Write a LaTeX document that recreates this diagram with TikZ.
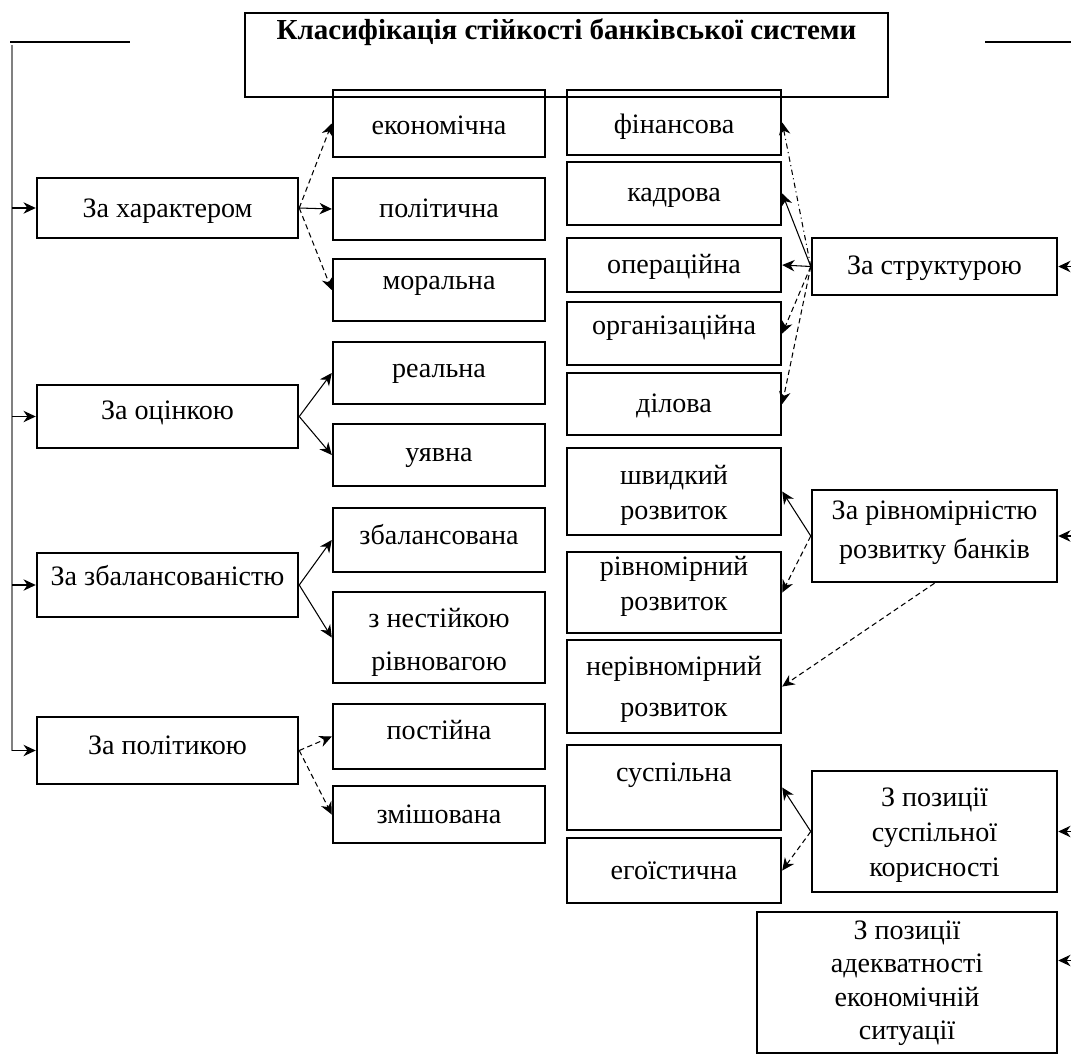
\documentclass[tikz,border=0pt]{standalone}
\usepackage{fontspec}
\setmainfont{Liberation Serif}
\usetikzlibrary{arrows.meta, calc}
\tikzset{box/.style 2 args={draw, line width=1.4pt, minimum width=#1*0.02cm, minimum height=#2*0.02cm, inner sep=0pt},
    txt/.style={font=\fontsize{16}{20}\selectfont, align=center, execute at begin node=\strut, execute at end node=\strut},
    lift/.style={yshift=#1*0.02cm},
    arr/.style={-{Stealth[length=7pt,width=6.5pt]}, line width=0.6pt},
    dsh/.style={arr, densely dashed}}

\begin{document}
\begin{tikzpicture}[x=0.02cm, y=-0.02cm]
\useasboundingbox (0,0) rectangle (1071,1061);

% title and the two side lines
\node[box={643}{84}, line width=0.9pt, label={[txt, font=\fontsize{16.5}{20}\selectfont\bfseries, lift=23]center:Класифікація стійкості банківської системи}] (title) at (566.5,55) {};
\coordinate (tl) at (10,42);
\coordinate (tr) at (1071,42);
\draw[line width=0.8pt] (tl) -- ++(120,0);
\draw[line width=0.8pt] (tr) -- ++(-86,0);

% left column
\node[box={261}{60}, label={[txt, lift=-2]center:За характером}] (har) at (167.5,208) {};
\node[box={261}{63}, label={[txt, lift=4]center:За оцінкою}] (ots) at (167.5,416.5) {};
\node[box={261}{64}, label={[txt, lift=7]center:За збалансованістю}] (zbal) at (167.5,585) {};
\node[box={261}{67}, label={[txt, lift=3]center:За політикою}] (pol) at (167.5,750.5) {};

% middle column
\node[box={212}{67}, label={[txt, lift=-4]center:економічна}] (ekon) at (439,123.5) {};
\node[box={212}{62}, label={[txt, lift=-1]center:політична}] (polit) at (439,209) {};
\node[box={212}{62}, label={[txt, lift=8]center:моральна}] (moral) at (439,290) {};
\node[box={212}{62}, label={[txt, lift=3]center:реальна}] (real) at (439,373) {};
\node[box={212}{62}, label={[txt, lift=1]center:уявна}] (uyav) at (439,455) {};
\node[box={212}{64}, label={[txt, lift=3]center:збалансована}] (zbalans) at (439,540) {};
\node[box={212}{91}, label={[txt, lift=-7]center:з нестійкою\\[4.5pt]рівновагою}] (nestiyk) at (439,637.5) {};
\node[box={212}{65}, label={[txt, lift=4]center:постійна}] (post) at (439,736.5) {};
\node[box={212}{57}, label={[txt, lift=-2]center:змішована}] (zmish) at (439,814.5) {};

% second column
\node[box={214}{65}, label={[txt, lift=-4]center:фінансова}] (fin) at (674,122.5) {};
\node[box={214}{63}, label={[txt, lift=-1]center:кадрова}] (kadr) at (674,193.5) {};
\node[box={214}{54}, label={[txt, lift=-1]center:операційна}] (oper) at (674,265) {};
\node[box={214}{63}, label={[txt, lift=6]center:організаційна}] (org) at (674,333.5) {};
\node[box={214}{62}, label={[txt, lift=-1]center:ділова}] (dil) at (674,404) {};
\node[box={214}{87}, label={[txt, lift=-6]center:швидкий\\розвиток}] (shvyd) at (674,491.5) {};
\node[box={214}{81}, label={[txt, lift=4]center:рівномірний\\розвиток}] (rivn) at (674,592.5) {};
\node[box={214}{93}, label={[txt, lift=-5]center:нерівномірний\\[3pt]розвиток}] (nerivn) at (674,686.5) {};
\node[box={214}{85}, label={[txt, lift=13]center:суспільна}] (susp) at (674,787.5) {};
\node[box={214}{65}, label={[txt, lift=-2]center:егоїстична}] (egoist) at (674,870.5) {};

% right column
\node[box={245}{57}, label={[txt, lift=-1]center:За структурою}] (strukt) at (934.5,266.5) {};
\node[box={245}{92}, label={[txt, lift=1]center:За рівномірністю\\[2pt]розвитку банків}] (rivnom) at (934.5,536) {};
\node[box={245}{121}, label={[txt, lift=-6]center:З позиції\\суспільної\\корисності}] (pozsusp) at (934.5,831.5) {};
\node[box={300}{141}, label={[txt, lift=-3]center:З позиції\\[-1pt]адекватності\\[-1pt]економічній\\[-1pt]ситуації}] (adekv) at (907,982.5) {};

% trunk on the left
\coordinate (trunk) at (12,45);
\draw[gray, line width=0.8pt] (trunk) -- (trunk |- pol.west);
\draw[arr] (trunk |- har.west) -- (har.west);
\draw[arr] (trunk |- ots.west) -- (ots.west);
\draw[arr] (trunk |- zbal.west) -- (zbal.west);
\draw[arr] (trunk |- pol.west) -- (pol.west);

% right rim
\coordinate (rim) at (1071,0);
\draw[arr] (rim |- strukt.east) -- (strukt.east);
\draw[arr] (rim |- rivnom.east) -- (rivnom.east);
\draw[arr] (rim |- pozsusp.east) -- (pozsusp.east);
\draw[arr] ($(rim |- adekv.east)+(0,-22)$) -- ($(adekv.east)+(0,-22)$);

% left branches
\draw[dsh] (har.east) -- (ekon.west);
\draw[arr] (har.east) -- (polit.west);
\draw[dsh] (har.east) -- (moral.west);
\draw[arr] (ots.east) -- (real.west);
\draw[arr] (ots.east) -- (uyav.west);
\draw[arr] (zbal.east) -- (zbalans.west);
\draw[arr] (zbal.east) -- (nestiyk.west);
\draw[dsh] (pol.east) -- (post.west);
\draw[dsh] (pol.east) -- (zmish.west);

% right branches
\draw[arr, dash dot] (strukt.west) -- (fin.east);
\draw[arr] (strukt.west) -- (kadr.east);
\draw[arr] (strukt.west) -- (oper.east);
\draw[dsh] (strukt.west) -- (org.east);
\draw[dsh] (strukt.west) -- (dil.east);
\draw[arr] (rivnom.west) -- (shvyd.east);
\draw[dsh] (rivnom.west) -- (rivn.east);
\draw[dsh] (rivnom.south) -- (nerivn.east);
\draw[arr] (pozsusp.west) -- (susp.east);
\draw[dsh] (pozsusp.west) -- (egoist.east);
\end{tikzpicture}
\end{document}
